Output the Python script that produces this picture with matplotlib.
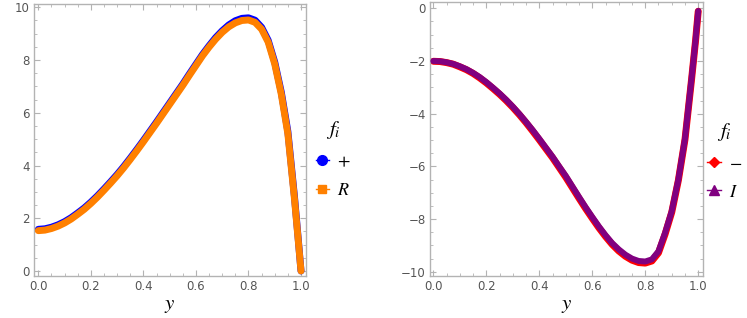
import matplotlib
matplotlib.use("Agg")
import matplotlib.pyplot as plt
from matplotlib.lines import Line2D
from matplotlib.ticker import MultipleLocator

plt.rcParams['mathtext.fontset'] = 'stix'
plt.rcParams['font.family'] = ['DejaVu Sans']

# ---------------- data ----------------
y_grid = [0.0, 0.025, 0.05, 0.075, 0.1, 0.125, 0.15, 0.175, 0.2, 0.225, 0.25,
          0.275, 0.3, 0.325, 0.35, 0.375, 0.4, 0.425, 0.45, 0.475, 0.5,
          0.525, 0.55, 0.575, 0.6, 0.625, 0.65, 0.675, 0.7, 0.725, 0.75,
          0.775, 0.8, 0.825, 0.85, 0.875, 0.9, 0.925, 0.95, 0.975, 0.99, 1.0]

f_R = [1.53, 1.55, 1.61, 1.70, 1.82, 1.97, 2.15, 2.34, 2.56, 2.80, 3.06,
       3.33, 3.61, 3.91, 4.23, 4.56, 4.90, 5.25, 5.60, 5.96, 6.32,
       6.68, 7.04, 7.42, 7.79, 8.16, 8.49, 8.79, 9.05, 9.26, 9.41,
       9.50, 9.52, 9.43, 9.17, 8.68, 7.85, 6.70, 5.20, 2.75, 1.10, 0.0]

f_plus = [1.58, 1.60, 1.66, 1.75, 1.87, 2.02, 2.20, 2.39, 2.61, 2.85, 3.11,
          3.38, 3.66, 3.96, 4.28, 4.61, 4.95, 5.30, 5.65, 6.01, 6.37,
          6.73, 7.09, 7.47, 7.84, 8.21, 8.54, 8.85, 9.11, 9.33, 9.49,
          9.58, 9.60, 9.51, 9.24, 8.75, 7.92, 6.78, 5.29, 2.83, 1.15, 0.0]

f_I = [-2.00, -2.01, -2.05, -2.11, -2.20, -2.31, -2.45, -2.61, -2.80, -3.01, -3.23,
       -3.47, -3.73, -4.01, -4.31, -4.62, -4.95, -5.29, -5.63, -6.00, -6.36,
       -6.76, -7.16, -7.55, -7.92, -8.28, -8.61, -8.91, -9.15, -9.35, -9.50,
       -9.59, -9.61, -9.53, -9.22, -8.52, -7.70, -6.50, -4.95, -2.65, -1.20, -0.10]

f_minus = [-2.01, -2.02, -2.06, -2.12, -2.22, -2.33, -2.47, -2.64, -2.83, -3.04, -3.26,
           -3.50, -3.76, -4.04, -4.34, -4.66, -4.99, -5.33, -5.67, -6.04, -6.41,
           -6.81, -7.21, -7.60, -7.97, -8.33, -8.66, -8.96, -9.21, -9.41, -9.56,
           -9.65, -9.67, -9.59, -9.28, -8.57, -7.74, -6.53, -4.98, -2.68, -1.22, -0.11]

# ---------------- figure ----------------
W, H = 747, 318
fig = plt.figure(figsize=(W / 100, H / 100), dpi=100)

frame_col = '#b3b3b3'
tick_lbl_col = '#555555'


def px_axes(l, t, r, b):
    return fig.add_axes([l / W, 1 - b / H, (r - l) / W, (b - t) / H])


def style(ax, ymaj, ymin):
    for s in ax.spines.values():
        s.set_color(frame_col)
        s.set_linewidth(1.0)
    ax.xaxis.set_major_locator(MultipleLocator(0.2))
    ax.xaxis.set_minor_locator(MultipleLocator(0.05))
    ax.yaxis.set_major_locator(MultipleLocator(ymaj))
    ax.yaxis.set_minor_locator(MultipleLocator(ymin))
    ax.tick_params(which='both', direction='in', top=True, right=True,
                   color=frame_col, labelcolor=tick_lbl_col, labelsize=8.5)
    ax.tick_params(which='major', length=4, width=0.8, pad=3)
    ax.tick_params(which='minor', length=2, width=0.6)
    ax.set_xlabel('$y$', fontsize=15, labelpad=1)


leg_kw = dict(loc='center left', frameon=False, fontsize=13, title_fontsize=15,
              handlelength=0.75, handletextpad=0.45, labelspacing=0.6,
              borderaxespad=0.0, borderpad=0.0)

# left panel
ax1 = px_axes(34, 4, 306, 276)
ax1.plot(y_grid, f_plus, color='#0000ff', lw=5.0,
         solid_capstyle='round', solid_joinstyle='round', zorder=2)
ax1.plot(y_grid, f_R, color='#ff8000', lw=5.0,
         solid_capstyle='round', solid_joinstyle='round', zorder=3)
ax1.set_xlim(-0.0164, 1.019)
ax1.set_ylim(-0.19, 10.125)
style(ax1, 2, 0.5)
ax1.set_xticks([0, 0.2, 0.4, 0.6, 0.8, 1.0])
ax1.set_xticklabels(['0.0', '0.2', '0.4', '0.6', '0.8', '1.0'])

h1 = [Line2D([], [], color='#0000ff', lw=1, marker='o', ms=7),
      Line2D([], [], color='#ff8000', lw=1, marker='s', ms=6)]
ax1.legend(h1, ['$+$', '$R$'], title='$f_i$',
           bbox_to_anchor=(1.035, 0.43), **leg_kw)

# right panel
ax2 = px_axes(430, 2, 703, 276)
ax2.plot(y_grid, f_minus, color='#ff0000', lw=5.0,
         solid_capstyle='round', solid_joinstyle='round', zorder=2)
ax2.plot(y_grid, f_I, color='#800080', lw=4.3,
         solid_capstyle='round', solid_joinstyle='round', zorder=3)
ax2.set_xlim(-0.0125, 1.018)
ax2.set_ylim(-10.16, 0.24)
style(ax2, 2, 0.5)
ax2.set_xticks([0, 0.2, 0.4, 0.6, 0.8, 1.0])
ax2.set_xticklabels(['0.0', '0.2', '0.4', '0.6', '0.8', '1.0'])
ax2.set_yticks([0, -2, -4, -6, -8, -10])
ax2.set_yticklabels(['0', '\u22122', '\u22124', '\u22126', '\u22128', '\u221210'])

h2 = [Line2D([], [], color='#ff0000', lw=1, marker='D', ms=5.5),
      Line2D([], [], color='#800080', lw=1, marker='^', ms=7)]
ax2.legend(h2, ['$-$', '$I$'], title='$f_i$',
           bbox_to_anchor=(1.015, 0.42), **leg_kw)

fig.savefig('out.png', dpi=100)
